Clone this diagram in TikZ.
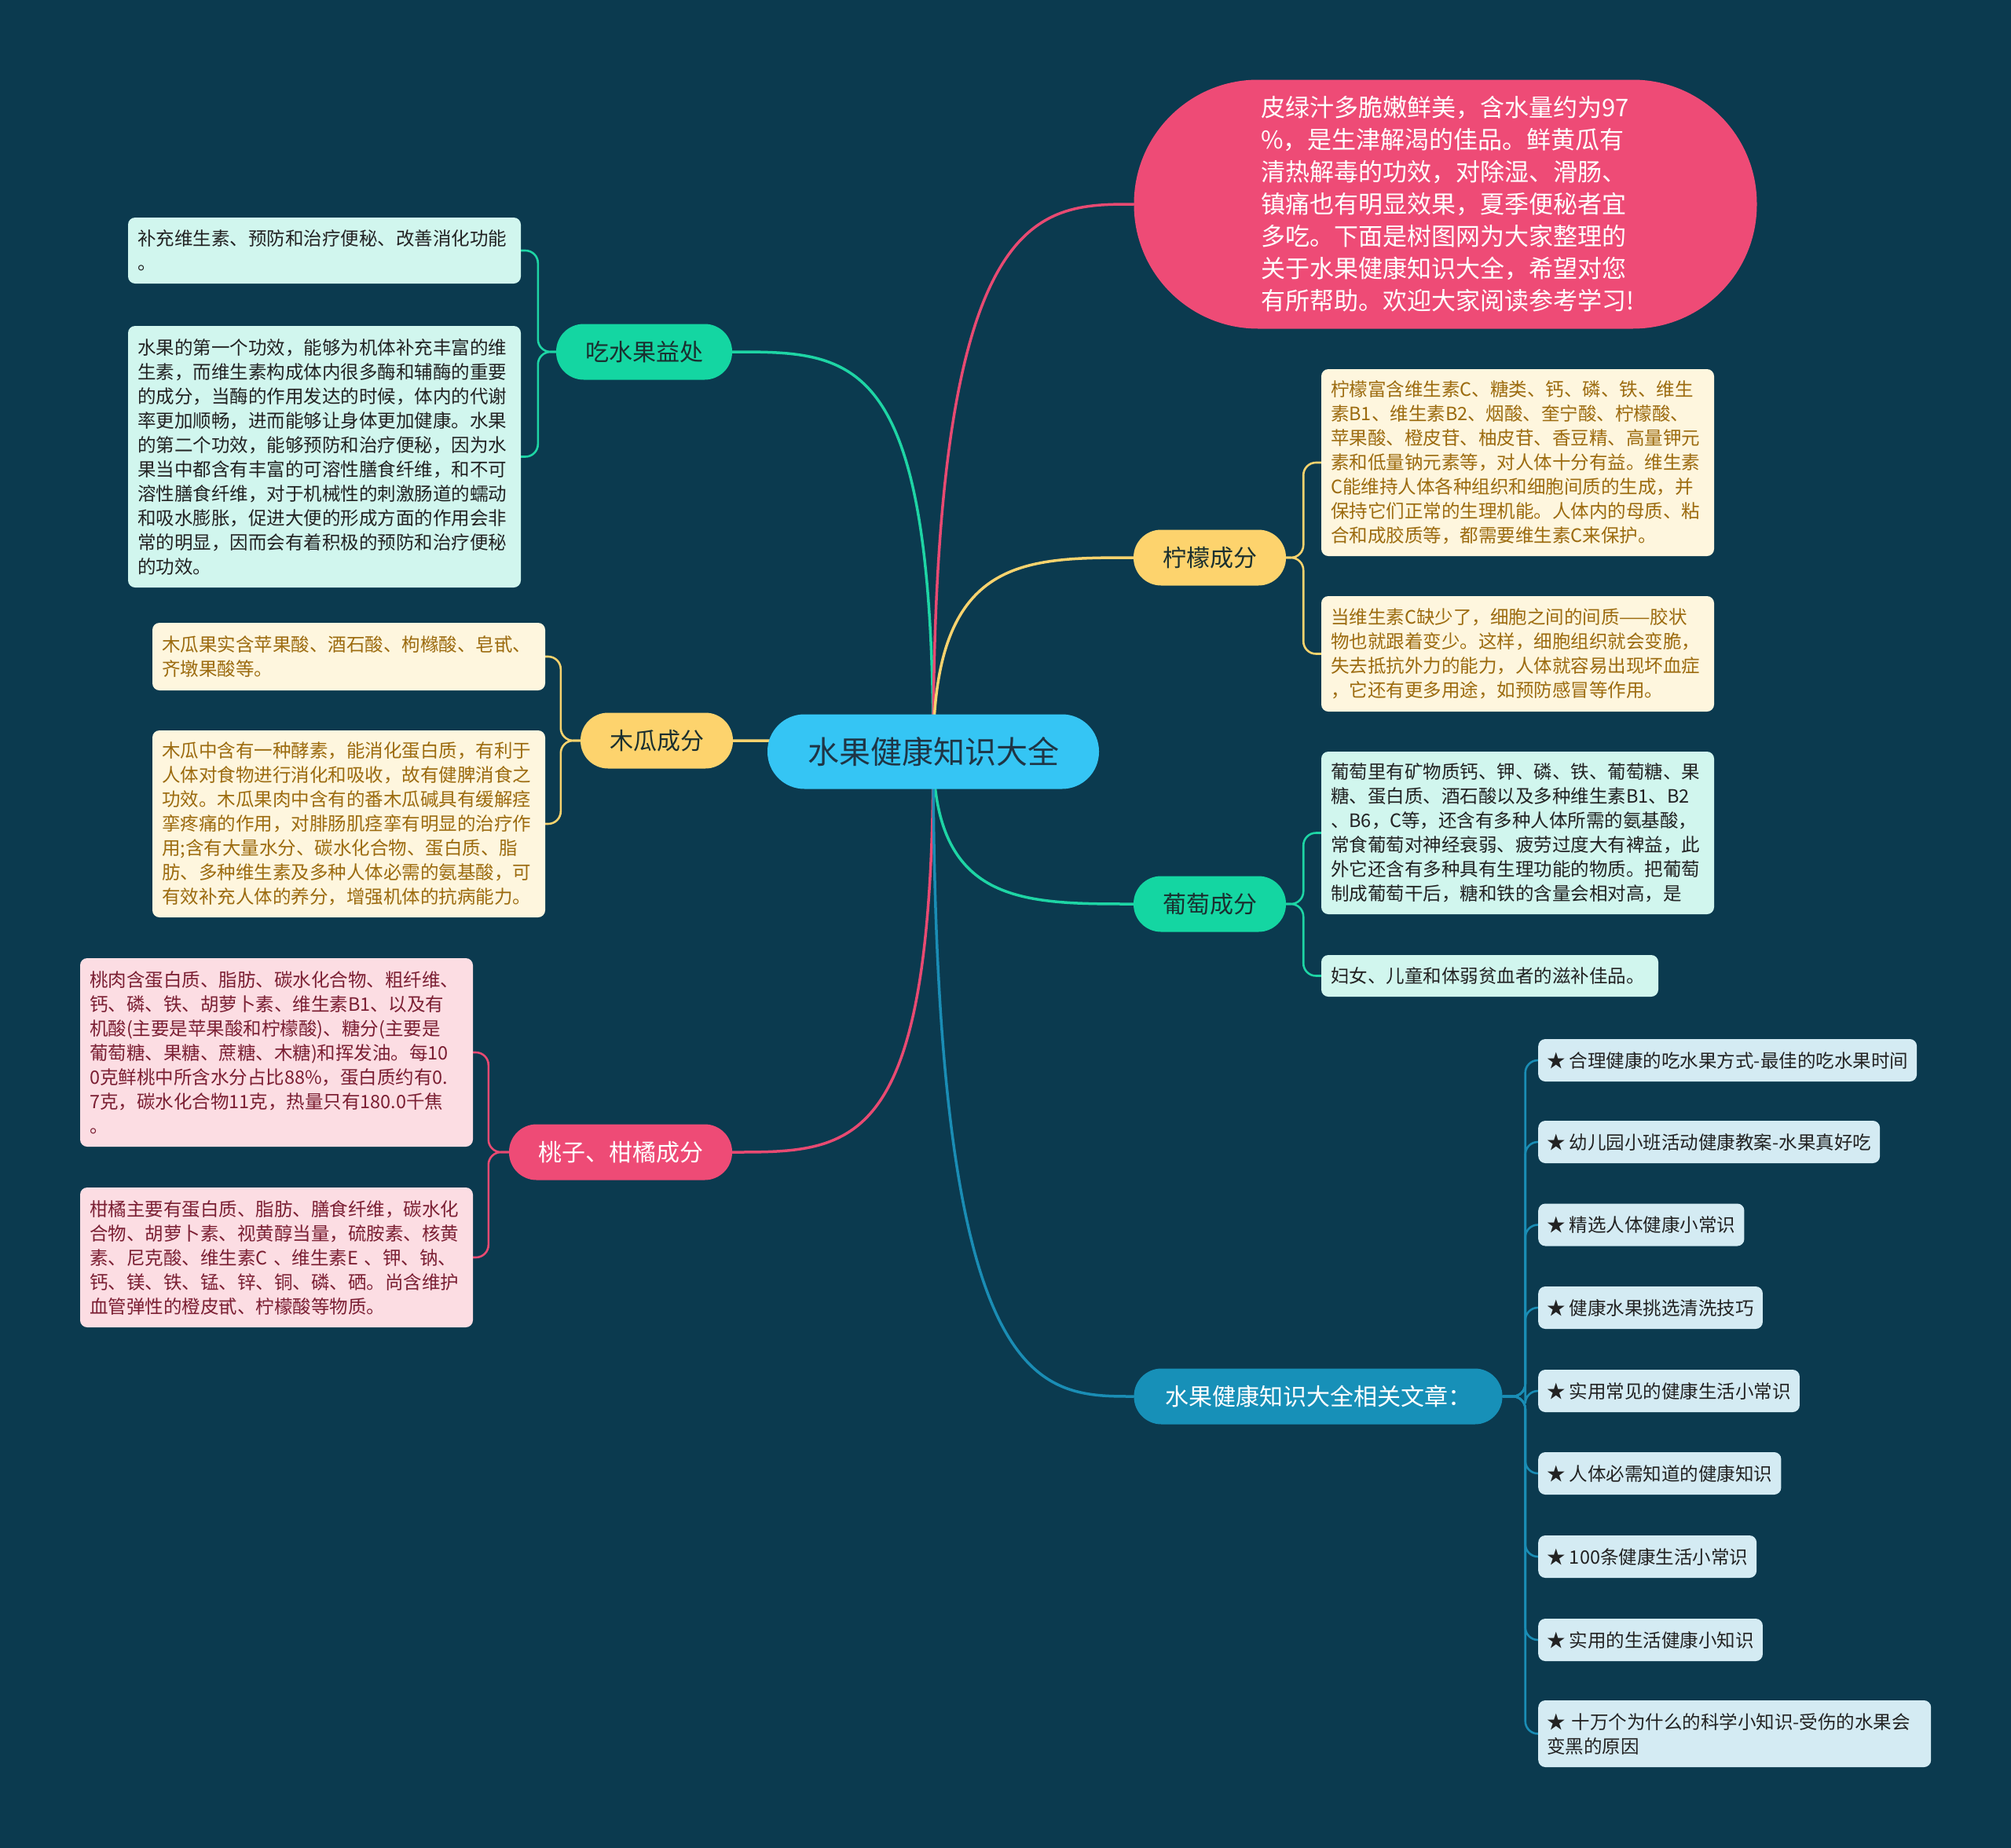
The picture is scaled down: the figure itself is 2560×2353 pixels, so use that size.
\documentclass[tikz,border=0pt]{standalone}
\usepackage{fontspec}
\setmainfont{Noto Sans CJK SC}
\pgfdeclarelayer{back}
\pgfdeclarelayer{bg}
\pgfsetlayers{back,bg,main}
\definecolor{bgc}{HTML}{0B3A4F}
\definecolor{cCenter}{HTML}{35C5F4}
\definecolor{cCenterText}{HTML}{1F3545}
\definecolor{cGreen}{HTML}{14D6A2}
\definecolor{cGreenLine}{HTML}{1ED5A5}
\definecolor{cYellow}{HTML}{FDD36D}
\definecolor{cYellowLine}{HTML}{F9D36E}
\definecolor{cPink}{HTML}{EE4B76}
\definecolor{cPinkLine}{HTML}{E84A72}
\definecolor{cBlue}{HTML}{1790B8}
\definecolor{cBlueLine}{HTML}{1A8DB5}
\definecolor{cDarkText}{HTML}{1A2F2F}
\definecolor{lGreen}{HTML}{D1F6EE}
\definecolor{lYellow}{HTML}{FEF6DE}
\definecolor{lPink}{HTML}{FCDDE3}
\definecolor{lBlue}{HTML}{D4EBF3}
\definecolor{tGold}{HTML}{9C6B0F}
\definecolor{tRed}{HTML}{7B1F33}
\definecolor{tDark}{HTML}{222222}
\tikzset{
  conn/.style={line width=3.5pt, line cap=round},
  brk/.style={line width=2.6pt, rounded corners=16pt},
  leaf/.style={rectangle, rounded corners=9pt, inner xsep=12pt, inner ysep=0pt,
    align=left, font=\fontsize{23.5pt}{31pt}\selectfont},
  gleaf/.style={leaf, fill=lGreen, text=tDark},
  yleaf/.style={leaf, fill=lYellow, text=tGold},
  pleaf/.style={leaf, fill=lPink, text=tRed},
  bleaf/.style={leaf, fill=lBlue, text=tDark, inner xsep=11pt, anchor=west},
  branch/.style={rectangle, rounded corners=35pt, inner sep=0pt, align=center,
    minimum height=71pt, font=\fontsize{30pt}{36pt}\selectfont},
}
\begin{document}
\begin{tikzpicture}[x=1pt,y=-1pt]
\begin{pgfonlayer}{back}
\fill[bgc] (0,0) rectangle (2560,2353);
\end{pgfonlayer}
\useasboundingbox (0,0) rectangle (2560,2353);

% central
\node[rectangle, rounded corners=47pt, fill=cCenter, text=cCenterText, minimum width=422pt,
  minimum height=95pt, inner sep=0pt, font=\fontsize{40pt}{46pt}\selectfont] (c) at (1188,957) {水果健康知识大全};

% branches
\node[branch, fill=cGreen, text=cDarkText, minimum width=224pt] (b1) at (820,448) {吃水果益处};
\node[branch, fill=cYellow, text=cDarkText, minimum width=194pt] (b2) at (836,943) {木瓜成分};
\node[branch, fill=cPink, text=white, minimum width=284pt] (b3) at (790,1467) {桃子、柑橘成分};
\node[branch, fill=cYellow, text=cDarkText, minimum width=194pt] (b4) at (1540,710) {柠檬成分};
\node[branch, fill=cGreen, text=cDarkText, minimum width=194pt] (b5) at (1540,1151) {葡萄成分};
\node[branch, fill=cBlue, text=white, minimum width=469pt] (b6) at (1678,1778) {水果健康知识大全相关文章：};

\node[rectangle, rounded corners=158pt, fill=cPink, text=white, minimum width=793pt,
  minimum height=317pt, inner sep=0pt, text width=470pt, align=left,
  font=\fontsize{31pt}{41pt}\selectfont] (red) at (1840,260)
  {皮绿汁多脆嫩鲜美，含水量约为97\\
   \%，是生津解渴的佳品。鲜黄瓜有\\
   清热解毒的功效，对除湿、滑肠、\\
   镇痛也有明显效果，夏季便秘者宜\\
   多吃。下面是树图网为大家整理的\\
   关于水果健康知识大全，希望对您\\
   有所帮助。欢迎大家阅读参考学习!};

% leaves: 吃水果益处
\node[gleaf, text width=476pt, minimum height=84pt] (g1) at (413,319)
  {补充维生素、预防和治疗便秘、改善消化功能\\。};
\node[gleaf, text width=476pt, minimum height=333pt] (g2) at (413,581.5)
  {水果的第一个功效，能够为机体补充丰富的维\\
   生素，而维生素构成体内很多酶和辅酶的重要\\
   的成分，当酶的作用发达的时候，体内的代谢\\
   率更加顺畅，进而能够让身体更加健康。水果\\
   的第二个功效，能够预防和治疗便秘，因为水\\
   果当中都含有丰富的可溶性膳食纤维，和不可\\
   溶性膳食纤维，对于机械性的刺激肠道的蠕动\\
   和吸水膨胀，促进大便的形成方面的作用会非\\
   常的明显，因而会有着积极的预防和治疗便秘\\
   的功效。};

% leaves: 木瓜
\node[yleaf, text width=476pt, minimum height=86pt] (y1) at (444,836)
  {木瓜果实含苹果酸、酒石酸、枸橼酸、皂甙、\\齐墩果酸等。};
\node[yleaf, text width=476pt, minimum height=238pt] (y2) at (444,1049)
  {木瓜中含有一种酵素，能消化蛋白质，有利于\\
   人体对食物进行消化和吸收，故有健脾消食之\\
   功效。木瓜果肉中含有的番木瓜碱具有缓解痉\\
   挛疼痛的作用，对腓肠肌痉挛有明显的治疗作\\
   用;含有大量水分、碳水化合物、蛋白质、脂\\
   肪、多种维生素及多种人体必需的氨基酸，可\\
   有效补充人体的养分，增强机体的抗病能力。};

% leaves: 桃子、柑橘
\node[pleaf, text width=476pt, minimum height=240pt] (p1) at (352,1340)
  {桃肉含蛋白质、脂肪、碳水化合物、粗纤维、\\
   钙、磷、铁、胡萝卜素、维生素B1、以及有\\
   机酸(主要是苹果酸和柠檬酸)、糖分(主要是\\
   葡萄糖、果糖、蔗糖、木糖)和挥发油。每10\\
   0克鲜桃中所含水分占比88\%，蛋白质约有0.\\
   7克，碳水化合物11克，热量只有180.0千焦\\
   。};
\node[pleaf, text width=476pt, minimum height=178pt] (p2) at (352,1601)
  {柑橘主要有蛋白质、脂肪、膳食纤维，碳水化\\
   合物、胡萝卜素、视黄醇当量，硫胺素、核黄\\
   素、尼克酸、维生素C 、维生素E 、钾、钠、\\
   钙、镁、铁、锰、锌、铜、磷、硒。尚含维护\\
   血管弹性的橙皮甙、柠檬酸等物质。};

% leaves: 柠檬
\node[yleaf, text width=476pt, minimum height=238pt] (l1) at (1932,589)
  {柠檬富含维生素C、糖类、钙、磷、铁、维生\\
   素B1、维生素B2、烟酸、奎宁酸、柠檬酸、\\
   苹果酸、橙皮苷、柚皮苷、香豆精、高量钾元\\
   素和低量钠元素等，对人体十分有益。维生素\\
   C能维持人体各种组织和细胞间质的生成，并\\
   保持它们正常的生理机能。人体内的母质、粘\\
   合和成胶质等，都需要维生素C来保护。};
\node[yleaf, text width=476pt, minimum height=147pt] (l2) at (1932,832.5)
  {当维生素C缺少了，细胞之间的间质——胶状\\
   物也就跟着变少。这样，细胞组织就会变脆，\\
   失去抵抗外力的能力，人体就容易出现坏血症\\
   ，它还有更多用途，如预防感冒等作用。};

% leaves: 葡萄
\node[gleaf, text width=476pt, minimum height=207pt] (gr1) at (1932,1060.5)
  {葡萄里有矿物质钙、钾、磷、铁、葡萄糖、果\\
   糖、蛋白质、酒石酸以及多种维生素B1、B2\\
   、B6，C等，还含有多种人体所需的氨基酸，\\
   常食葡萄对神经衰弱、疲劳过度大有裨益，此\\
   外它还含有多种具有生理功能的物质。把葡萄\\
   制成葡萄干后，糖和铁的含量会相对高，是};
\node[gleaf, text width=405pt, minimum height=53pt] (gr2) at (1896.5,1242.5)
  {妇女、儿童和体弱贫血者的滋补佳品。};

% leaves: related articles
\node[bleaf, minimum height=54pt] (r1) at (1958,1350) {★ 合理健康的吃水果方式-最佳的吃水果时间};
\node[bleaf, minimum height=54pt] (r2) at (1958,1454) {★ 幼儿园小班活动健康教案-水果真好吃};
\node[bleaf, minimum height=54pt] (r3) at (1958,1559.5) {★ 精选人体健康小常识};
\node[bleaf, minimum height=54pt] (r4) at (1958,1665) {★ 健康水果挑选清洗技巧};
\node[bleaf, minimum height=54pt] (r5) at (1958,1771) {★ 实用常见的健康生活小常识};
\node[bleaf, minimum height=54pt] (r6) at (1958,1876) {★ 人体必需知道的健康知识};
\node[bleaf, minimum height=54pt] (r7) at (1958,1982) {★ 100条健康生活小常识};
\node[bleaf, minimum height=54pt] (r8) at (1958,2088) {★ 实用的生活健康小知识};
\node[bleaf, minimum height=85pt, text width=478pt] (r9) at (1958,2207.5)
  {★ 十万个为什么的科学小知识-受伤的水果会\\变黑的原因};

\begin{pgfonlayer}{bg}
% main connectors
\draw[conn, cGreenLine] (c.center) .. controls (1188,448) and (1090,448) .. (b1.east);
\draw[conn, cYellowLine] (c.center) .. controls (1150,943) and (1060,943) .. (b2.east);
\draw[conn, cPinkLine] (c.center) .. controls (1188,1467) and (1090,1467) .. (b3.east);
\draw[conn, cPinkLine] (c.center) .. controls (1188,260) and (1320,260) .. (red.west);
\draw[conn, cYellowLine] (c.center) .. controls (1188,710) and (1300,710) .. (b4.west);
\draw[conn, cGreenLine] (c.center) .. controls (1188,1151) and (1300,1151) .. (b5.west);
\draw[conn, cBlueLine] (c.center) .. controls (1188,1778) and (1320,1778) .. (b6.west);
% leaf brackets
\foreach \l in {g1,g2} \draw[brk, cGreenLine] (b1.west) -- ++(-23,0) |- (\l.east);
\foreach \l in {y1,y2} \draw[brk, cYellowLine] (b2.west) -- ++(-25,0) |- (\l.east);
\foreach \l in {p1,p2} \draw[brk, cPinkLine] (b3.west) -- ++(-26,0) |- (\l.east);
\foreach \l in {l1,l2} \draw[brk, cYellowLine] (b4.east) -- ++(22,0) |- (\l.west);
\foreach \l in {gr1,gr2} \draw[brk, cGreenLine] (b5.east) -- ++(22,0) |- (\l.west);
\foreach \l in {r1,r2,r3,r4,r5,r6,r7,r8,r9} \draw[brk, cBlueLine] (b6.east) -- ++(29,0) |- (\l.west);
\end{pgfonlayer}
\end{tikzpicture}
\end{document}
